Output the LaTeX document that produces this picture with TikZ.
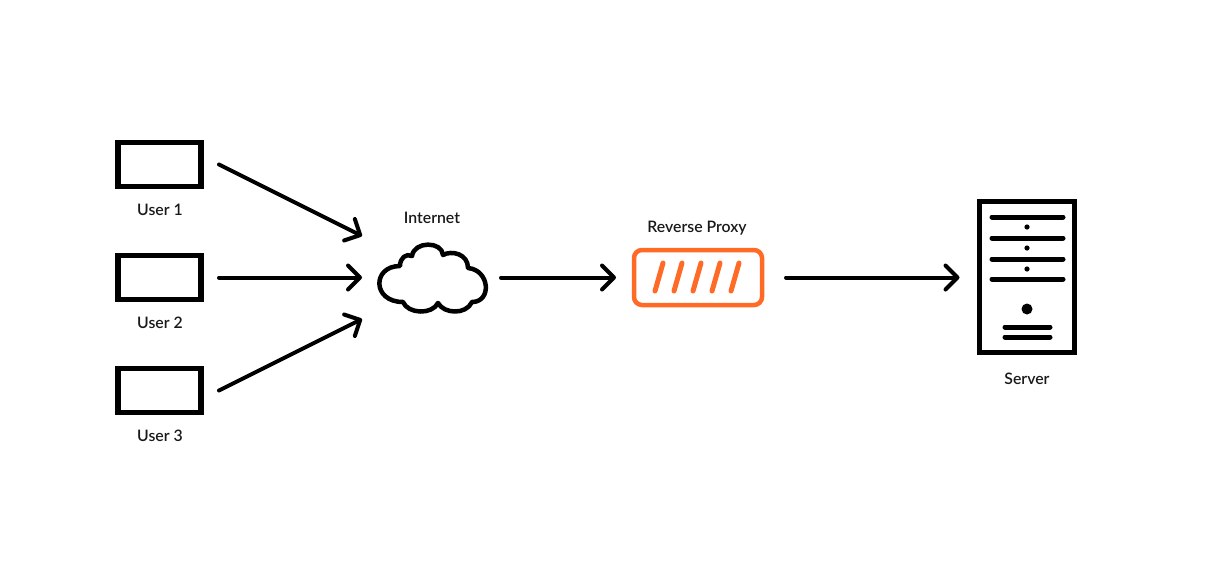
\documentclass[tikz,border=0pt]{standalone}
\usepackage{fontspec}
\setmainfont{Lato Semibold}
\usepackage{tikz}
\usetikzlibrary{arrows.meta}
\definecolor{proxyorange}{RGB}{255,107,38}
\tikzstyle{userbox} = [draw, line width=5.5pt, minimum width=83pt, minimum height=44pt, inner sep=0pt, outer sep=0pt]
\tikzstyle{proxybox} = [draw=proxyorange, line width=4.5pt, rounded corners=8pt, minimum width=128pt, minimum height=55pt, inner sep=0pt, outer sep=0pt]
\tikzstyle{serverbox} = [draw, line width=5.5pt, minimum width=95pt, minimum height=151pt, inner sep=0pt, outer sep=0pt]
\tikzstyle{cloudspot} = [minimum width=110pt, minimum height=70pt, inner sep=0pt, outer sep=0pt]
\tikzstyle{tag} = [font=\fontsize{15.8}{18}\selectfont, text=black!90, inner sep=0pt]
\tikzstyle{flow} = [line width=4pt, line cap=round, -{Straight Barb[length=12pt,width=24pt,line width=4pt,round]}]
\tikzstyle{rack} = [line width=5pt, line cap=round]
\tikzstyle{slash} = [proxyorange, line width=5pt, line cap=round]
\begin{document}
\begin{tikzpicture}[x=1pt,y=-1pt]
  \useasboundingbox (0,0) rectangle (1226,566);
  \def\uo{159.5,164.5}
  \def\ut{159.5,277.5}
  \def\uh{159.5,390.5}
  \def\cl{432,278}
  \def\rp{698,277.5}
  \def\sv{1027,277}
  \node[userbox] (user1) at (\uo) {};
  \node[userbox] (user2) at (\ut) {};
  \node[userbox] (user3) at (\uh) {};
  \node[cloudspot] (cloud) at (\cl) {};
  \node[proxybox] (proxy) at (\rp) {};
  \node[serverbox] (server) at (\sv) {};
  \node[tag] (user1tag) at (160,210) {User 1};
  \node[tag] (user2tag) at (160,323) {User 2};
  \node[tag] (user3tag) at (160,436) {User 3};
  \node[tag] (cloudtag) at (432,218) {Internet};
  \node[tag] (proxytag) at (697,228) {Reverse Proxy};
  \node[tag] (servertag) at (1027,379) {Server};
  % cloud outline
  \draw[line width=4.5pt, line join=round] (400,266) .. controls (400,258) and (406,253) .. (412,256)
    .. controls (414,241) and (442,241) .. (443,255)
    .. controls (452,250) and (468,254) .. (468,268)
    .. controls (490,270) and (492,302) .. (472,302)
    .. controls (466,315) and (444,314) .. (438,303)
    .. controls (432,315) and (408,314) .. (403,302)
    .. controls (372,302) and (372,266) .. (400,266) -- cycle;
  % slashes of the proxy
  \foreach \i in {0,...,4}
    \draw[slash] (663+19*\i,263) -- (655+19*\i,291);
  % server front
  \foreach \y in {217,238,259,279}
    \draw[rack] (992,\y) -- (1063,\y);
  \foreach \y in {227,248,269}
    \fill (1027,\y) circle (2.6pt);
  \fill (1027,309) circle (5.5pt);
  \draw[rack] (1005,327) -- (1050,327);
  \draw[rack] (1005,337) -- (1050,337);
  % connectors
  \draw[flow] ([xshift=18pt]user1.east) -- ([shift={(-15,-42)}]cloud.west);
  \draw[flow] ([xshift=18pt]user2.east) -- ([xshift=-15pt]cloud.west |- user2.east);
  \draw[flow] ([xshift=18pt]user3.east) -- ([shift={(-15,41)}]cloud.west);
  \draw[flow] ([xshift=14pt]cloud.east |- proxy.west) -- ([xshift=-18pt]proxy.west);
  \draw[flow] ([xshift=24pt]proxy.east) -- ([xshift=-20pt]server.west |- proxy.east);
\end{tikzpicture}
\end{document}
